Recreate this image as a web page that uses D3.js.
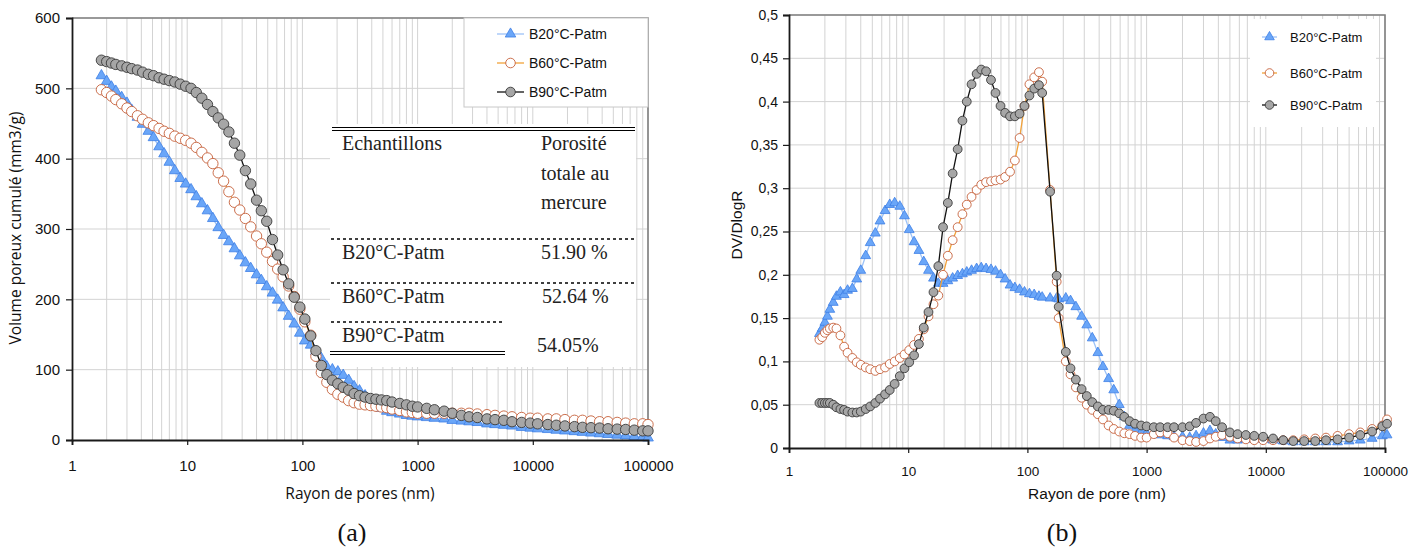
<!DOCTYPE html>
<html><head><meta charset="utf-8">
<script src="https://cdn.jsdelivr.net/npm/d3@7"></script>
<style>body{margin:0;background:#fff} svg{display:block}</style>
</head><body><svg id="c" width="1422" height="550"></svg>
<script>
// ---------- DATA ----------
const seriesNames = ["B20°C-Patm", "B60°C-Patm", "B90°C-Patm"];
const xTickValues = [1, 10, 100, 1000, 10000, 100000];
const yTicksA = [0, 100, 200, 300, 400, 500, 600];
const yTicksB = [0, 0.05, 0.1, 0.15, 0.2, 0.25, 0.3, 0.35, 0.4, 0.45, 0.5];

// (a) cumulative pore volume (mm3/g) vs pore radius (nm)
const radiusA = [1.8,2,2.2,2.4,2.7,3,3.3,3.7,4.1,4.6,5.1,5.7,6.3,7,7.8,8.7,9.7,10.8,12,13.4,15,16.7,18.6,20.7,23,25.7,28.6,32,35.6,40,44,49,55,61,68,76,85,95,105,118,131,146,163,182,203,226,252,281,313,350,390,435,485,540,600,700,800,900,1000,1200,1400,1700,2000,2400,2800,3300,4000,4700,5600,6600,8000,9500,11000,13500,16000,19000,23000,27000,32000,38000,45000,54000,64000,76000,90000,100000];
const volB20 = [518,510,502,496,487,479,469,459,449,439,430,417,407,395,383,372,364,356,346,336,326,315,302,291,282,272,262,252,244,235,227,218,209,199,188,176,165,152,141,135,126,116,104,100,97,92,85,76,70,63,56,50,45,41,39,37,35,34,33,32,31,30,28,27,26,25,23,22,21,20,18,17,16,15,14,13,12,11,10,9,8,7,6,5,4,3];
const volB60 = [498,494,489,484,478,472,467,461,456,451,447,443,439,436,432,429,426,422,416,409,401,393,380,368,353,338,327,315,303,290,279,267,254,243,232,219,204,186,168,149,119,96,82,72,65,61,56,53,51,50,49,48,47,46,44,42,40,39,38,38,38,38,38,38,38,37,36,35,34,33,32,31,31,30,30,29,28,28,27,26,26,25,24,23,23,22];
const volB90 = [540,538,536,534,532,530,528,526,523,520,518,515,513,511,509,506,503,500,494,486,477,467,458,449,438,422,405,383,364,341,326,311,285,263,242,222,203,189,172,148,127,106,93,85,80,75,71,66,63,61,59,58,57,56,54,52,50,48,47,45,43,41,38,35,33,32,30,29,28,26,25,24,23,22,21,20,19,18,17.5,17,16,15.5,15,14,13,13];

// (b) DV/DlogR vs pore radius (nm)
const radiusB = [1.8,1.9,2,2.1,2.2,2.35,2.5,2.7,2.9,3.1,3.4,3.7,4,4.4,4.8,5.3,5.8,6.4,7,7.7,8.5,9.3,10.2,11.2,12.3,13.5,14.8,16.3,17.9,19.6,21.5,23.6,26,28.5,31,34,37.5,41,45,49.5,54,59.5,65,71.5,78.5,86,94.5,104,114,125,133,155,176,183,210,230,255,285,315,350,390,430,480,530,590,650,720,800,900,1000,1150,1300,1500,1700,2000,2300,2600,3000,3400,3800,4300,5000,5800,6800,8000,9500,11500,14000,17000,21000,26000,32000,40000,50000,62000,78000,95000,104000];
const dvB20 = [.132,.138,.145,.152,.16,.168,.175,.18,.177,.182,.184,.195,.205,.222,.237,.248,.262,.274,.281,.283,.279,.268,.252,.238,.228,.215,.205,.196,.19,.19,.193,.196,.199,.201,.203,.205,.207,.208,.207,.206,.204,.2,.195,.188,.185,.183,.18,.178,.177,.175,.174,.173,.173,.172,.173,.17,.163,.152,.142,.127,.11,.094,.08,.067,.05,.036,.026,.021,.018,.017,.016,.015,.014,.013,.013,.012,.014,.017,.02,.016,.012,.009,.009,.01,.011,.01,.009,.008,.007,.007,.007,.007,.007,.008,.009,.011,.014,.015];
const dvB60 = [.125,.128,.133,.136,.138,.139,.138,.13,.117,.11,.104,.099,.096,.093,.091,.089,.091,.093,.097,.1,.104,.108,.113,.119,.126,.137,.152,.166,.176,.2,.222,.24,.255,.27,.281,.29,.298,.304,.307,.308,.309,.31,.313,.319,.332,.358,.395,.42,.428,.434,.423,.298,.192,.15,.1,.085,.07,.058,.05,.044,.039,.033,.026,.022,.019,.017,.016,.014,.012,.012,.016,.018,.017,.012,.009,.008,.007,.008,.011,.013,.015,.013,.011,.01,.009,.009,.009,.009,.009,.01,.011,.012,.014,.016,.018,.022,.026,.033];
const dvB90 = [.052,.052,.052,.052,.052,.05,.047,.045,.044,.042,.041,.041,.042,.045,.048,.052,.057,.062,.067,.074,.083,.092,.099,.107,.12,.139,.157,.18,.21,.255,.283,.317,.345,.378,.4,.42,.432,.437,.435,.425,.41,.395,.387,.383,.383,.386,.395,.407,.415,.419,.41,.296,.199,.163,.111,.092,.079,.068,.06,.053,.048,.044,.044,.043,.04,.036,.031,.028,.026,.025,.024,.024,.024,.024,.024,.025,.029,.034,.036,.031,.024,.018,.016,.015,.014,.013,.011,.009,.008,.008,.008,.009,.01,.012,.015,.019,.025,.028];

const tableHeader = ["Echantillons", "Porosité", "totale au", "mercure"];
const tableSamples = ["B20°C-Patm", "B60°C-Patm", "B90°C-Patm"];
const tablePorosity = ["51.90 %", "52.64 %", "54.05%"];

// ---------- STYLES ----------
const styles = [
  {line: "#9cc2f7", fill: "#6aa6f8", stroke: "#3d7fe6", shape: "tri"},
  {line: "#f2a23a", fill: "#ffffff", stroke: "#c5603a", shape: "circ"},
  {line: "#111111", fill: "#a6a6a6", stroke: "#3a3a3a", shape: "circ"}
];
const tickFont = "'Liberation Sans', Arial, sans-serif";
const gridColor = "#d3d3d3";

const svg = d3.select("#c");

function drawChart(cfg) {
  const g = svg.append("g");
  const x = d3.scaleLog().domain([1, 100000]).range([cfg.x0, cfg.x1]);
  const y = d3.scaleLinear().domain(cfg.yDomain).range([cfg.y1, cfg.y0]);

  // grid
  const vlines = [];
  for (let d = 1; d < 100000; d *= 10) for (let k = 1; k <= 9; k++) { const v = d * k; if (v > 1) vlines.push(v); }
  vlines.push(100000);
  g.append("g").selectAll("line").data(vlines).join("line")
    .attr("x1", d => x(d)).attr("x2", d => x(d)).attr("y1", cfg.y0).attr("y2", cfg.y1)
    .attr("stroke", gridColor).attr("stroke-width", 1);
  g.append("g").selectAll("line").data(cfg.yTicks.filter(v => v > 0)).join("line")
    .attr("x1", cfg.x0).attr("x2", cfg.x1).attr("y1", d => y(d)).attr("y2", d => y(d))
    .attr("stroke", gridColor).attr("stroke-width", 1);

  // border (top/right)
  g.append("path").attr("d", `M${cfg.x0},${cfg.y0}H${cfg.x1}V${cfg.y1}`)
    .attr("fill", "none").attr("stroke", "#7f7f7f").attr("stroke-width", 1.6);

  if (cfg.under) cfg.under(g, x, y);

  // series
  cfg.series.forEach((s, i) => {
    const st = styles[i];
    const pts = s.r.map((r, j) => [r, s.v[j]]);
    g.append("path").datum(pts)
      .attr("d", d3.line().x(d => x(d[0])).y(d => y(d[1])))
      .attr("fill", "none").attr("stroke", st.line).attr("stroke-width", 1.3);
    const mg = g.append("g");
    if (st.shape === "tri") {
      mg.selectAll("path").data(pts).join("path")
        .attr("d", d3.symbol(d3.symbolTriangle, cfg.triSize))
        .attr("transform", d => `translate(${x(d[0])},${y(d[1])})`)
        .attr("fill", st.fill).attr("stroke", st.stroke).attr("stroke-width", 0.8);
    } else {
      mg.selectAll("circle").data(pts).join("circle")
        .attr("cx", d => x(d[0])).attr("cy", d => y(d[1])).attr("r", cfg.circR)
        .attr("fill", st.fill).attr("stroke", st.stroke).attr("stroke-width", 0.9);
    }
  });

  // axes
  const ax = g.append("g").attr("transform", `translate(0,${cfg.y1})`)
    .call(d3.axisBottom(x).tickValues(xTickValues).tickSize(5).tickPadding(cfg.xPad).tickFormat(d3.format("d")));
  const ay = g.append("g").attr("transform", `translate(${cfg.x0},0)`)
    .call(d3.axisLeft(y).tickValues(cfg.yTicks).tickSize(6).tickPadding(cfg.yPad).tickFormat(cfg.yFmt));
  ax.selectAll("text").attr("font-size", cfg.xTickSize);
  ay.selectAll("text").attr("font-size", cfg.yTickSize);
  [ax, ay].forEach(a => {
    a.select(".domain").attr("stroke", "#1a1a1a").attr("stroke-width", 1.8);
    a.selectAll(".tick line").attr("stroke", "#1a1a1a").attr("stroke-width", 1.2);
    a.selectAll("text").attr("font-family", tickFont).attr("fill", "#111");
  });

  // titles
  g.append("text").attr("x", cfg.xTitle[0]).attr("y", cfg.xTitle[1]).attr("text-anchor", "middle")
    .attr("font-family", cfg.titleFont).attr("font-size", cfg.titleSize).attr("fill", "#111").text(cfg.xLabel);
  g.append("text").attr("transform", `translate(${cfg.yTitle[0]},${cfg.yTitle[1]}) rotate(-90)`)
    .attr("text-anchor", "middle").attr("font-family", cfg.titleFont).attr("font-size", cfg.titleSize)
    .attr("fill", "#111").text(cfg.yLabel);

  // legend
  const L = cfg.legend;
  const lg = g.append("g");
  lg.append("rect").attr("x", L.x).attr("y", L.y).attr("width", L.w).attr("height", L.h)
    .attr("fill", "#fff").attr("stroke", L.border ? "#c8c8c8" : "none").attr("stroke-width", 1);
  seriesNames.forEach((name, i) => {
    const st = styles[i];
    const cy = L.rows[i];
    lg.append("line").attr("x1", L.lx0).attr("x2", L.lx1).attr("y1", cy).attr("y2", cy)
      .attr("stroke", st.line).attr("stroke-width", 1.3);
    const mx = (L.lx0 + L.lx1) / 2;
    if (st.shape === "tri") {
      lg.append("path").attr("d", d3.symbol(d3.symbolTriangle, L.triSize))
        .attr("transform", `translate(${mx},${cy})`)
        .attr("fill", st.fill).attr("stroke", st.stroke).attr("stroke-width", 0.8);
    } else {
      lg.append("circle").attr("cx", mx).attr("cy", cy).attr("r", L.circR)
        .attr("fill", st.fill).attr("stroke", st.stroke).attr("stroke-width", 0.9);
    }
    lg.append("text").attr("x", L.tx).attr("y", cy + 5).attr("font-family", tickFont)
      .attr("font-size", L.fontSize).attr("fill", "#111").text(name);
  });
  return {x, y};
}

// ---------- Chart (a) ----------
drawChart({
  x0: 72, x1: 648, y0: 18, y1: 440,
  yDomain: [0, 600], yTicks: yTicksA, yFmt: d3.format("d"),
  xPad: 15, yPad: 6, xTickSize: 15, yTickSize: 15,
  series: [{r: radiusA, v: volB20}, {r: radiusA, v: volB60}, {r: radiusA, v: volB90}],
  triSize: 50, circR: 5.2,
  xLabel: "Rayon de pores (nm)", yLabel: "Volume poreux cumulé (mm3/g)",
  xTitle: [360, 499], yTitle: [21, 228],
  titleFont: "'Open Sans', sans-serif", titleSize: 15.5,
  legend: {x: 464, y: 18, w: 184, h: 89, border: true, rows: [34, 63, 92], lx0: 497, lx1: 524,
           tx: 529, fontSize: 14, triSize: 48, circR: 4.8},
  under: (g) => {
    // porosity table
    const t = g.append("g");
    t.append("rect").attr("x", 330).attr("y", 124).attr("width", 306).attr("height", 243).attr("fill", "#fff");
    const serif = "'Liberation Serif', 'Times New Roman', serif";
    const line = (x1, x2, yy, dash) => t.append("line").attr("x1", x1).attr("x2", x2).attr("y1", yy).attr("y2", yy)
      .attr("stroke", "#000").attr("stroke-width", dash ? 1.5 : 1).attr("stroke-dasharray", dash ? "3,3" : null);
    line(332, 635, 127.5); line(332, 635, 130.5);
    line(331, 635, 239, true);
    line(331, 635, 283, true);
    line(331, 503, 322, true);
    line(330, 505, 351.5); line(330, 505, 354.5);
    const txt = (s, xx, yy) => t.append("text").attr("x", xx).attr("y", yy).attr("font-family", serif)
      .attr("font-size", 20).attr("fill", "#222").text(s);
    txt(tableHeader[0], 342, 150);
    txt(tableHeader[1], 541, 150);
    txt(tableHeader[2], 541, 180);
    txt(tableHeader[3], 541, 209);
    const rowsY = [259, 303, 342];
    const porY = [259, 303, 352];
    const porX = [541, 542, 537];
    tableSamples.forEach((s, i) => { txt(s, 342, rowsY[i]); txt(tablePorosity[i], porX[i], porY[i]); });
  }
});

// ---------- Chart (b) ----------
drawChart({
  x0: 789, x1: 1385, y0: 15, y1: 448,
  yDomain: [0, 0.5], yTicks: yTicksB,
  yFmt: d => d === 0 ? "0" : d3.format(".2~f")(d).replace(".", ","),
  xPad: 13, yPad: 5, xTickSize: 13.5, yTickSize: 14,
  series: [{r: radiusB, v: dvB20}, {r: radiusB, v: dvB60}, {r: radiusB, v: dvB90}],
  triSize: 42, circR: 4.4,
  xLabel: "Rayon de pore (nm)", yLabel: "DV/DlogR",
  xTitle: [1097, 499], yTitle: [742, 225],
  titleFont: "'Liberation Sans', Arial, sans-serif", titleSize: 15.5,
  legend: {x: 1250, y: 19, w: 126, h: 108, border: false, rows: [37, 73, 105], lx0: 1262, lx1: 1277,
           tx: 1290, fontSize: 13, triSize: 40, circR: 4.3}
});

// panel labels
const serifL = "'Liberation Serif', 'Times New Roman', serif";
svg.append("text").attr("x", 352).attr("y", 541).attr("text-anchor", "middle").attr("font-family", serifL)
  .attr("font-size", 26).attr("fill", "#111").text("(a)");
svg.append("text").attr("x", 1062).attr("y", 541).attr("text-anchor", "middle").attr("font-family", serifL)
  .attr("font-size", 26).attr("fill", "#111").text("(b)");
</script>
</body></html>
